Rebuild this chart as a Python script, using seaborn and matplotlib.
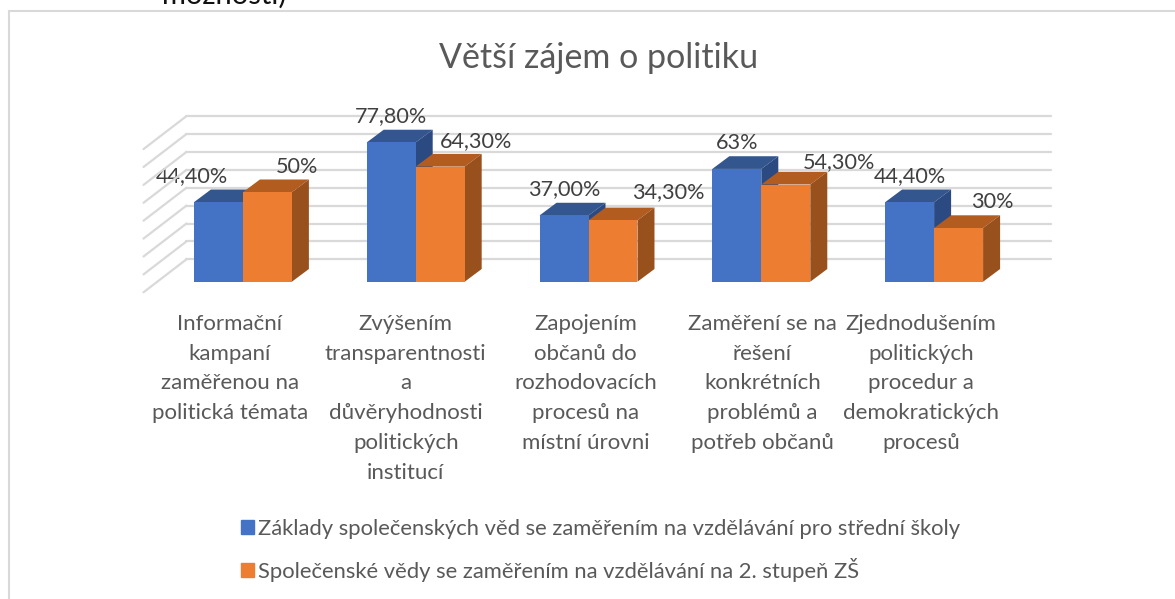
"""Grouped pseudo-3D bar chart drawn on top of a seaborn barplot."""

import matplotlib.pyplot as plt
import pandas as pd
import seaborn as sns
from matplotlib.lines import Line2D
from matplotlib.patches import Patch, Polygon
from matplotlib.transforms import Affine2D, ScaledTranslation

categories = [
    "Informační\nkampaní\nzaměřenou na\npolitická témata",
    "Zvýšením\ntransparentnosti\na\ndůvěryhodnosti\npolitických\ninstitucí",
    "Zapojením\nobčanů do\nrozhodovacích\nprocesů na\nmístní úrovni",
    "Zaměření se na\nřešení\nkonkrétních\nproblémů a\npotřeb občanů",
    "Zjednodušením\npolitických\nprocedur a\ndemokratických\nprocesů",
]
series_names = [
    "Základy společenských věd se zaměřením na vzdělávání pro střední školy",
    "Společenské vědy se zaměřením na vzdělávání na 2. stupeň ZŠ",
]
values_a = [44.4, 77.8, 37.0, 63.0, 44.4]
values_b = [50.0, 64.3, 34.3, 54.3, 30.0]
labels_a = ["44,40%", "77,80%", "37,00%", "63%", "44,40%"]
labels_b = ["50%", "64,30%", "34,30%", "54,30%", "30%"]
grid_levels = [0, 10, 20, 30, 40, 50, 60, 70, 80]

# label offsets from the top of each bar front, in pixels (as placed in the original)
offsets_a = [(-26, 26), (0, 26), (0, 26), (0, 26), (0, 26)]
offsets_b = [(30, 25), (36, 26), (55, 28), (53, 22), (34, 26)]
# small shifts of the category labels, in pixels
label_shifts = [-13, -10, -3, 1, -13]

BLUE = ["#4472C4", "#34568F", "#2B4A82"]
ORANGE = ["#ED7D31", "#B25C20", "#98501C"]
TEXT = "#595959"
DARK = "#404040"
GRID = "#D9D9D9"

W, H = 1175, 599
AX_LEFT, AX_RIGHT, AX_BASE, AX_TOP = 156.5, 1020.5, 281.7, 138.5
BAR_DX, BAR_DY = 17, 12.7

sns.set_theme(style="white")
plt.rcParams["font.family"] = ["Lato", "DejaVu Sans"]

fig = plt.figure(figsize=(W / 100, H / 100), dpi=100)
ax = fig.add_axes([AX_LEFT / W, 1 - AX_BASE / H, (AX_RIGHT - AX_LEFT) / W, (AX_BASE - AX_TOP) / H])

df = pd.DataFrame({
    "category": categories * 2,
    "value": values_a + values_b,
    "series": [series_names[0]] * 5 + [series_names[1]] * 5,
})
sns.barplot(data=df, x="category", y="value", hue="series", palette=[BLUE[0], ORANGE[0]],
            width=0.567, gap=0, saturation=1, legend=False, linewidth=0, ax=ax)
ax.set_xlim(-0.5, 4.5)
ax.set_ylim(0, 80)
ax.set_xlabel("")
ax.set_ylabel("")
ax.set_yticks([])
sns.despine(ax=ax, left=True, bottom=True)

# back wall and side wall of the 3D box
back = ax.transData + Affine2D().translate(30, 22.4)
for level in grid_levels:
    ax.plot([-0.5, 4.5], [level, level], transform=back, color=GRID, lw=1.6, clip_on=False, zorder=1)
    start = back.transform((-0.5, level))
    fig.add_artist(Line2D([start[0] / W, (start[0] - 43) / W], [start[1] / H, (start[1] - 33) / H],
                          color=GRID, lw=1.6, zorder=0.5))

# depth of each bar, converted to data units
per_x = (AX_RIGHT - AX_LEFT) / 5
per_y = (AX_BASE - AX_TOP) / 80
ddx, ddy = BAR_DX / per_x, BAR_DY / per_y

bars = list(ax.patches)
for i, bar in enumerate(bars):
    colors = BLUE if i < 5 else ORANGE
    base_z = 3 if i < 5 else 5
    x0, x1, h = bar.get_x(), bar.get_x() + bar.get_width(), bar.get_height()
    ax.add_patch(Polygon([(x0, h), (x1, h), (x1 + ddx, h + ddy), (x0 + ddx, h + ddy)],
                         color=colors[1], lw=0, clip_on=False, zorder=base_z))
    ax.add_patch(Polygon([(x1, 0), (x1, h), (x1 + ddx, h + ddy), (x1 + ddx, ddy)],
                         color=colors[2], lw=0, clip_on=False, zorder=base_z))
    bar.set_zorder(base_z + 1)
    bar.set_clip_on(False)

    text = (labels_a + labels_b)[i]
    dx, dy = (offsets_a + offsets_b)[i]
    ax.annotate(text, (x0 + bar.get_width() / 2, h), xytext=(dx * 0.72, dy * 0.72),
                textcoords="offset points", ha="center", va="center",
                fontsize=15.6, color=DARK, zorder=10, annotation_clip=False)

ax.tick_params(axis="x", length=0, pad=23, labelsize=16, labelcolor=TEXT)
for label, shift in zip(ax.get_xticklabels(), label_shifts):
    label.set_linespacing(1.62)
    label.set_transform(label.get_transform() + ScaledTranslation(shift / 100, 0, fig.dpi_scale_trans))

handles = [Patch(color=BLUE[0]), Patch(color=ORANGE[0])]
fig.legend(handles, series_names, loc="upper left", bbox_to_anchor=(221 / W, 1 - 499 / H),
           frameon=False, fontsize=15.85, labelcolor=TEXT, handlelength=0.6, handleheight=0.6,
           handletextpad=0.17, labelspacing=0.88, borderpad=0.4)

fig.suptitle("Větší zájem o politiku", x=599 / W, y=1 - 58 / H, fontsize=24.5, color=TEXT,
             va="center", ha="center", fontweight="normal")

# clipped line of text above the chart, and the chart frame
fig.text(224 / W, 1 - 4 / H, "možnosti)", ha="center", va="baseline", fontsize=21, color="#111111")
fig.add_artist(Line2D([9 / W, 1], [1 - 11 / H, 1 - 11 / H], color=GRID, lw=1.5))
fig.add_artist(Line2D([9 / W, 9 / W], [0, 1 - 11 / H], color=GRID, lw=1.5))

fig.savefig("out.png", dpi=100)
